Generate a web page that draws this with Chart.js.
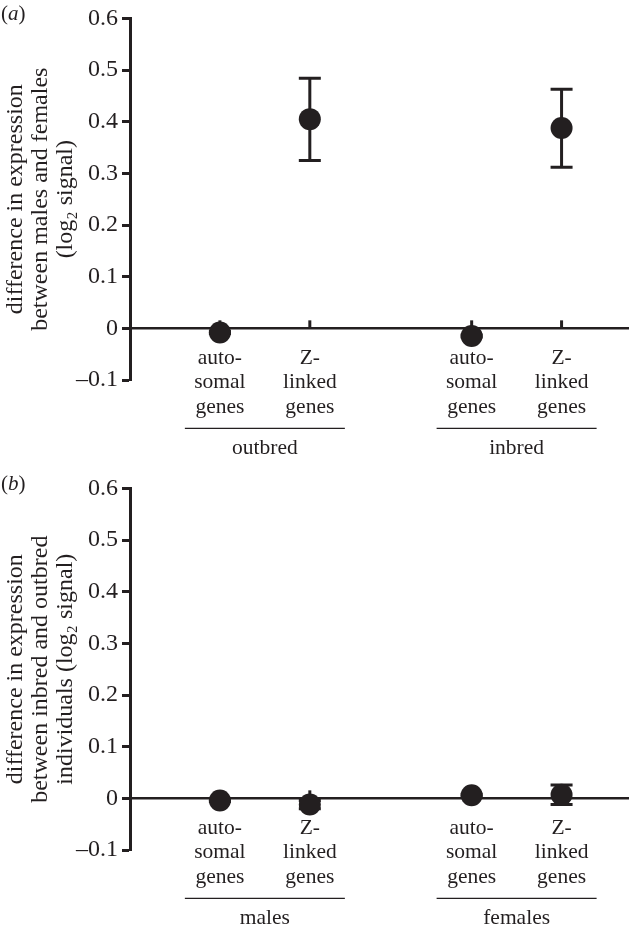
<!DOCTYPE html>
<html>
<head>
<meta charset="utf-8">
<script src="https://cdn.jsdelivr.net/npm/chart.js@4.4.1/dist/chart.umd.min.js"></script>
<style>
  body { margin: 0; background: #fff; }
  .panel { position: relative; width: 640px; overflow: hidden; }
  .panel canvas { position: absolute; left: 0; top: 0; }
  .tag { position: absolute; left: 1px; top: 1px; font: 21px "Liberation Serif", serif; color: #231f20; }
</style>
</head>
<body>
<div class="panel" style="height:470px"><canvas id="chartA" width="640" height="470"></canvas><div class="tag">(<i>a</i>)</div></div>
<div class="panel" style="height:461px"><canvas id="chartB" width="640" height="470"></canvas><div class="tag">(<i>b</i>)</div></div>
<script>
// category labels (same under both panels)
const categories = [
  ['auto-', 'somal', 'genes'],
  ['Z-', 'linked', 'genes'],
  ['auto-', 'somal', 'genes'],
  ['Z-', 'linked', 'genes']
];
const yTickLabels = ['\u20130.1', '0', '0.1', '0.2', '0.3', '0.4', '0.5', '0.6'];

// panel (a): males vs females
const groupsA = ['outbred', 'inbred'];
const meanA = [-0.008, 0.405, -0.015, 0.388];
const lowA = [-0.010, 0.325, -0.017, 0.312];
const highA = [-0.006, 0.484, -0.013, 0.463];
const titleA = ['difference in expression', 'between males and females', '(log\u2082 signal)'];

// panel (b): inbred vs outbred
const groupsB = ['males', 'females'];
const meanB = [-0.004, -0.012, 0.006, 0.007];
const lowB = [-0.006, -0.020, 0.004, -0.012];
const highB = [-0.002, -0.004, 0.008, 0.026];
const titleB = ['difference in expression', 'between inbred and outbred', 'individuals (log\u2082 signal)'];

const ink = '#231f20';
const serif = '"Liberation Serif", "Times New Roman", serif';

// two categories per group, with a wider gap between groups
function xOf(i) {
  return Math.floor(i / 2) * 2.8 + (i % 2) + 1;
}

function makeChart(id, means, lows, highs, groups, title) {
  const decor = {
    id: 'decor',
    beforeDatasetsDraw(chart) {
      const c = chart.ctx, xs = chart.scales.x, ys = chart.scales.y, area = chart.chartArea;
      const y0 = ys.getPixelForValue(0);
      c.save();
      c.strokeStyle = ink;
      // zero line
      c.lineWidth = 2.5;
      c.beginPath();
      c.moveTo(area.left, y0);
      c.lineTo(area.right, y0);
      c.stroke();
      // category ticks
      c.lineWidth = 3;
      means.forEach((m, i) => {
        const px = xs.getPixelForValue(xOf(i));
        c.beginPath();
        c.moveTo(px, y0);
        c.lineTo(px, y0 - 8);
        c.stroke();
      });
      // error bars
      means.forEach((m, i) => {
        const px = xs.getPixelForValue(xOf(i));
        const yl = ys.getPixelForValue(lows[i]), yh = ys.getPixelForValue(highs[i]);
        c.beginPath();
        c.moveTo(px, yh); c.lineTo(px, yl);
        c.moveTo(px - 11, yh); c.lineTo(px + 11, yh);
        c.moveTo(px - 11, yl); c.lineTo(px + 11, yl);
        c.stroke();
      });
      c.restore();
    },
    afterDraw(chart) {
      const c = chart.ctx, xs = chart.scales.x, ys = chart.scales.y;
      const y0 = ys.getPixelForValue(0);
      c.save();
      c.fillStyle = ink;
      c.strokeStyle = ink;
      c.font = '21.5px ' + serif;
      c.textAlign = 'center';
      c.textBaseline = 'middle';
      categories.forEach((lines, i) => {
        const px = xs.getPixelForValue(xOf(i));
        lines.forEach((t, k) => c.fillText(t, px, y0 + 30 + k * 24.5));
      });
      groups.forEach((g, j) => {
        const a = xs.getPixelForValue(xOf(j * 2)), b = xs.getPixelForValue(xOf(j * 2 + 1));
        const mid = (a + b) / 2;
        c.lineWidth = 1.2;
        c.beginPath();
        c.moveTo(mid - 80, y0 + 100);
        c.lineTo(mid + 80, y0 + 100);
        c.stroke();
        c.fillText(g, mid, y0 + 120);
      });
      c.restore();
    }
  };

  return new Chart(document.getElementById(id).getContext('2d'), {
    type: 'scatter',
    data: {
      datasets: [{
        data: means.map((v, i) => ({ x: xOf(i), y: v })),
        backgroundColor: ink,
        borderWidth: 0,
        pointRadius: 11,
        pointHoverRadius: 11,
        clip: false
      }]
    },
    options: {
      responsive: false,
      animation: false,
      events: [],
      layout: { padding: { left: 0, top: 17, right: 0, bottom: 90 } },
      plugins: { legend: { display: false }, tooltip: { enabled: false } },
      scales: {
        x: { type: 'linear', min: 0, max: 5.55, display: false },
        y: {
          min: -0.1,
          max: 0.6,
          afterFit(s) { s.width = 130; },
          ticks: {
            stepSize: 0.1,
            color: ink,
            padding: 4,
            font: { family: serif, size: 24 },
            callback: v => yTickLabels[Math.round(v * 10) + 1]
          },
          grid: {
            display: true,
            drawOnChartArea: false,
            drawTicks: true,
            tickLength: 8,
            tickWidth: 3,
            tickColor: ink
          },
          border: { display: true, width: 3, color: ink },
          title: {
            display: true,
            text: title,
            color: ink,
            font: { family: serif, size: 24, lineHeight: 1.05 },
            padding: { top: 3, bottom: 0 }
          }
        }
      }
    },
    plugins: [decor]
  });
}

makeChart('chartA', meanA, lowA, highA, groupsA, titleA);
makeChart('chartB', meanB, lowB, highB, groupsB, titleB);
</script>
</body>
</html>
